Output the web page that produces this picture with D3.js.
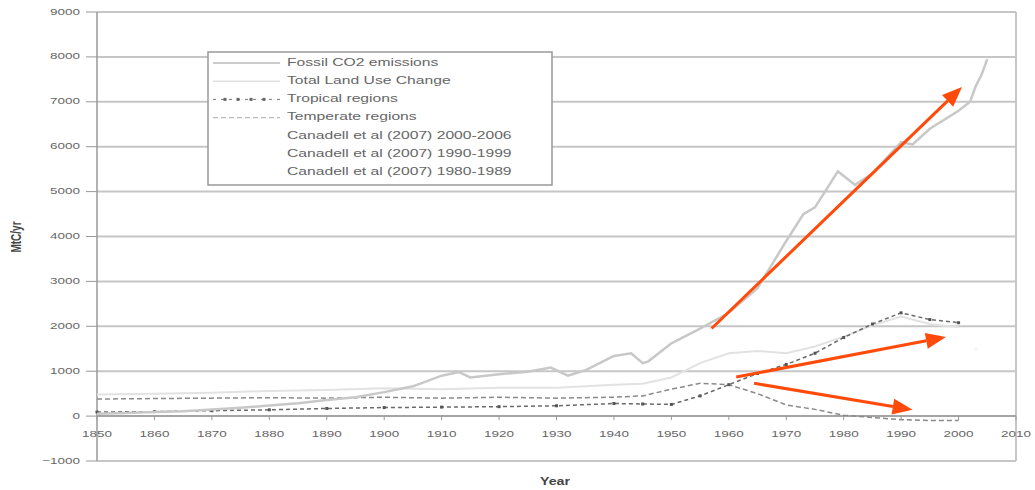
<!DOCTYPE html>
<html><head><meta charset="utf-8">
<script src="https://cdn.jsdelivr.net/npm/d3@7"></script>
<style>
html,body{margin:0;padding:0;background:#fff;}
svg{display:block;font-family:"Liberation Sans",Arial,sans-serif;}
</style></head>
<body><svg id="c" width="1035" height="490"></svg>
<script>
// ---------- DATA ----------
const yTicks = [-1000,0,1000,2000,3000,4000,5000,6000,7000,8000,9000];
const xTicks = [1850,1860,1870,1880,1890,1900,1910,1920,1930,1940,1950,1960,1970,1980,1990,2000,2010];

const fossilYears  = [1850,1855,1860,1865,1870,1875,1880,1885,1890,1895,1900,1905,1910,1913,1915,1920,1925,1929,1932,1935,1940,1943,1945,1946,1950,1955,1960,1965,1970,1973,1975,1979,1982,1985,1990,1992,1995,2000,2002,2003,2004,2005];
const fossilValues = [54,70,91,110,147,188,236,285,356,420,534,663,900,980,860,932,990,1080,900,1020,1340,1400,1180,1220,1620,1950,2300,2850,3900,4500,4650,5450,5150,5400,6100,6050,6400,6800,7000,7350,7600,7950];

const lucYears    = [1850,1860,1870,1880,1890,1900,1910,1920,1930,1940,1945,1950,1955,1960,1965,1970,1975,1980,1985,1990,1995,2000];
const totalLUC    = [480,500,520,560,580,620,600,630,630,700,720,860,1180,1400,1450,1400,1550,1770,2020,2220,2050,1980];
const tropical    = [90,100,120,140,170,190,200,210,230,280,270,260,450,700,950,1150,1400,1750,2050,2300,2150,2080];
const temperate   = [380,390,400,410,400,420,400,420,400,420,450,600,730,700,500,250,150,20,-30,-80,-100,-100];

const canadellLabels = ["Canadell et al (2007) 2000-2006","Canadell et al (2007) 1990-1999","Canadell et al (2007) 1980-1989"];
const canadellYears  = [2003,1995,1985];
const canadellValues = [1500,1600,1400];

const legendLabels = ["Fossil CO2 emissions","Total Land Use Change","Tropical regions","Temperate regions"].concat(canadellLabels);

// annotation arrows (year, value) start -> end
const arrowStartYears = [1957,1961.3,1964.4];
const arrowStartVals  = [1950,870,730];
const arrowEndYears   = [2000.6,1997.8,1992];
const arrowEndVals    = [7330,1760,140];

// ---------- DRAW ----------
const svg = d3.select("#c");
const SX = 1.42;
const x = d3.scaleLinear().domain([1850,2010]).range([97,1016]);
const y = d3.scaleLinear().domain([-1000,9000]).range([461,12]);

function stext(g, px, py, str, o){
  o = o||{};
  const t = g.append("g").attr("transform",`translate(${px},${py}) scale(${o.sx||SX},1)${o.rot?` rotate(${o.rot})`:""}`)
    .append("text").text(str)
    .attr("font-size", o.size||10)
    .attr("fill", o.fill||"#555")
    .attr("text-anchor", o.anchor||"start")
    .attr("dominant-baseline", o.base||"middle");
  if(o.weight) t.attr("font-weight",o.weight);
  return t;
}

// plot frame & grid
svg.append("g").selectAll("line").data(yTicks).join("line")
  .attr("x1",x(1850)).attr("x2",x(2010))
  .attr("y1",d=>y(d)).attr("y2",d=>y(d))
  .attr("stroke","#c6c6c6").attr("stroke-width",2);
svg.append("line").attr("x1",x(2010)).attr("x2",x(2010)).attr("y1",y(9000)).attr("y2",y(-1000))
  .attr("stroke","#c6c6c6").attr("stroke-width",2);
// left axis
svg.append("line").attr("x1",x(1850)).attr("x2",x(1850)).attr("y1",y(9000)).attr("y2",y(-1000))
  .attr("stroke","#999").attr("stroke-width",1.5);
svg.append("g").selectAll("line").data(yTicks).join("line")
  .attr("x1",x(1850)-11).attr("x2",x(1850))
  .attr("y1",d=>y(d)).attr("y2",d=>y(d)).attr("stroke","#999").attr("stroke-width",1);
const gy = svg.append("g");
yTicks.forEach(v=>stext(gy, 80, y(v), d3.format("d")(v), {anchor:"end", size:9.5, fill:"#666"}));
// x axis at zero
svg.append("line").attr("x1",x(1850)).attr("x2",x(2010)).attr("y1",y(0)).attr("y2",y(0))
  .attr("stroke","#999").attr("stroke-width",1.5);
svg.append("g").selectAll("line").data(xTicks).join("line")
  .attr("x1",d=>x(d)).attr("x2",d=>x(d)).attr("y1",y(0)).attr("y2",y(0)+4)
  .attr("stroke","#999").attr("stroke-width",1);
const gx = svg.append("g");
xTicks.forEach(v=>stext(gx, x(v), 434, String(v), {anchor:"middle", size:9.5, fill:"#666"}));

// axis titles
stext(svg, 555, 482, "Year", {anchor:"middle", size:10, fill:"#444", weight:"bold"});
stext(svg, 17, 237, "MtC/yr", {anchor:"middle", size:10, fill:"#444", weight:"bold", sx:1.45, rot:-90});

// series
const line = d3.line().x(d=>x(d[0])).y(d=>y(d[1]));
const zip = (a,b)=>a.map((v,i)=>[v,b[i]]);

svg.append("path").datum(zip(lucYears,totalLUC)).attr("d",line)
  .attr("fill","none").attr("stroke","#e2e2e2").attr("stroke-width",2);
svg.append("path").datum(zip(lucYears,temperate)).attr("d",line)
  .attr("fill","none").attr("stroke","#8a8a8a").attr("stroke-width",1.5).attr("stroke-dasharray","5,3");
svg.append("path").datum(zip(lucYears,tropical)).attr("d",line)
  .attr("fill","none").attr("stroke","#6a6a6a").attr("stroke-width",1.5).attr("stroke-dasharray","4,3");
svg.append("g").selectAll("rect").data(zip(lucYears,tropical)).join("rect")
  .attr("x",d=>x(d[0])-1.5).attr("y",d=>y(d[1])-1.5).attr("width",3).attr("height",3).attr("fill","#555");
svg.append("path").datum(zip(fossilYears,fossilValues)).attr("d",line)
  .attr("fill","none").attr("stroke","#c8c8c8").attr("stroke-width",2.5);
svg.append("g").selectAll("circle").data(zip(canadellYears,canadellValues)).join("circle")
  .attr("cx",d=>x(d[0])).attr("cy",d=>y(d[1])).attr("r",2).attr("fill","#f7f7f7");

// legend
const lg = svg.append("g");
lg.append("rect").attr("x",208).attr("y",52).attr("width",344).attr("height",133)
  .attr("fill","#fff").attr("stroke","#999").attr("stroke-width",1.5);
legendLabels.forEach((lab,i)=>{
  const ly = 63 + i*18.2;
  if(i===0) lg.append("line").attr("x1",213).attr("x2",280).attr("y1",ly).attr("y2",ly).attr("stroke","#999").attr("stroke-width",1.2);
  if(i===1) lg.append("line").attr("x1",213).attr("x2",280).attr("y1",ly).attr("y2",ly).attr("stroke","#e2e2e2").attr("stroke-width",1.5);
  if(i===2){
    lg.append("line").attr("x1",213).attr("x2",280).attr("y1",ly).attr("y2",ly).attr("stroke","#777").attr("stroke-width",1).attr("stroke-dasharray","3,5");
    [225,238,251,264].forEach(px=>lg.append("rect").attr("x",px-1.5).attr("y",ly-1.5).attr("width",3).attr("height",3).attr("fill","#666"));
  }
  if(i===3) lg.append("line").attr("x1",213).attr("x2",280).attr("y1",ly).attr("y2",ly).attr("stroke","#bbb").attr("stroke-width",1.2).attr("stroke-dasharray","5,3");
  stext(lg, 287, ly, lab, {size:10.3, sx:1.52, fill:"#666"});
});

// orange annotation arrows
const orange = "#ff4a0a";
arrowStartYears.forEach((sy,i)=>{
  const x1 = x(sy), y1 = y(arrowStartVals[i]), x2 = x(arrowEndYears[i]), y2 = y(arrowEndVals[i]);
  const ang = Math.atan2(y2-y1, x2-x1);
  const L = 20, W = 8;
  const bx = x2 - L*Math.cos(ang), by = y2 - L*Math.sin(ang);
  svg.append("line").attr("x1",x1).attr("y1",y1).attr("x2",bx).attr("y2",by)
    .attr("stroke",orange).attr("stroke-width",3);
  const px = -Math.sin(ang), py = Math.cos(ang);
  svg.append("path").attr("d",`M${x2},${y2}L${bx+W*px},${by+W*py}L${bx-W*px},${by-W*py}Z`).attr("fill",orange);
});
</script></body></html>
